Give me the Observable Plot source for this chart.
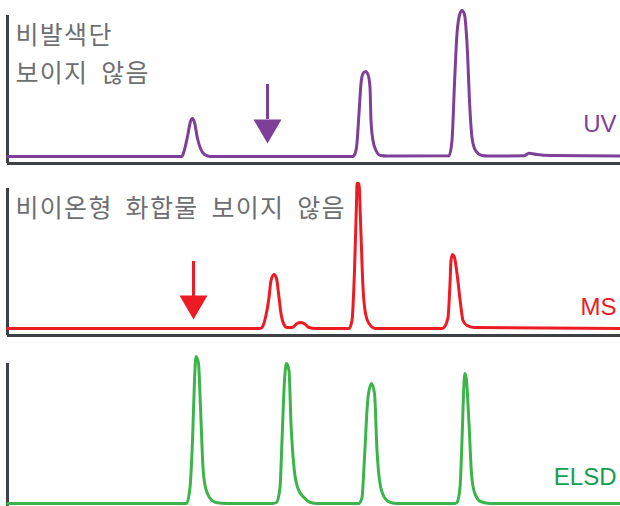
<!DOCTYPE html>
<html>
<head>
<meta charset="utf-8">
<script src="https://cdn.jsdelivr.net/npm/d3@7"></script>
<script src="https://cdn.jsdelivr.net/npm/@observablehq/plot@0.6"></script>
<style>
  html, body { margin: 0; padding: 0; background: #fff; }
  #chart svg { display: block; }
  /* Korean annotations are set a little looser */
  #chart svg g[font-family*="CJK"] text { letter-spacing: 1.3px; word-spacing: 6px; }
</style>
</head>
<body>
<div id="chart"></div>
<script>
// Chromatograms of the same sample on three detectors.
// Each trace: [retention time (s), detector response (a.u.)]
const uvTrace = [
  [0, 0], [348, 0], [350, 1], [360, 20], [366, 35], [370, 38], [374, 34], [380, 18], [386, 8], [394, 2], [406, 0],
  [690, 0], [693, 1], [698, 9], [703, 43], [707, 73], [711, 83], [716, 85], [721, 82], [725, 69], [727, 36], [731, 16], [737, 6], [746, 1], [760, 0.5],
  [883, 0.7], [889, 16], [894, 73], [899, 123], [905, 143], [909, 146], [914, 142], [919, 113], [925, 46], [929, 19], [936, 6], [949, 1], [960, 0.5],
  [1033, 0.7], [1043, 3.3], [1059, 2], [1086, 1], [1226, 0.5]
];
const msTrace = [
  [0, 0], [505, 0], [509, 1], [516, 11], [523, 31], [527, 48], [533, 54], [538, 50], [543, 31], [547, 15], [553, 4], [559, 1],
  [569, 1], [579, 5], [586, 6], [593, 5], [603, 1], [616, 0],
  [683, 0], [689, 8], [694, 58], [698, 125], [699, 145], [703, 145], [706, 108], [711, 41], [716, 15], [723, 5], [736, 0],
  [869, 0], [873, 1], [881, 11], [885, 45], [887, 68], [890, 74], [894, 71], [899, 55], [906, 25], [911, 8], [919, 3], [933, 1], [1226, 0]
];
const elsdTrace = [
  [0, 0], [358, 0], [365, 16], [370, 63], [374, 123], [377, 147], [382, 140], [386, 96], [391, 36], [396, 16], [404, 6], [417, 1], [440, 0],
  [530, 0], [538, 1], [545, 16], [549, 63], [554, 123], [558, 140], [563, 133], [567, 80], [573, 36], [581, 15], [593, 6], [606, 1], [620, 0],
  [703, 0], [709, 6], [714, 46], [721, 106], [728, 120], [734, 110], [739, 53], [745, 20], [754, 6], [766, 1], [780, 0],
  [895, 0], [899, 1], [905, 16], [909, 63], [913, 120], [915, 130], [918, 123], [923, 80], [928, 30], [934, 11], [946, 2], [966, 0], [1226, 0]
];

// Where each detector misses a compound: arrow shaft top, shaft end, head tip
const uvArrow = [{time: 520, top: 72, base: 37, tip: 13}];
const msArrow = [{time: 372, top: 67, base: 32, tip: 9}];

const detectorNames = ["UV", "MS", "ELSD"];
const uvNote = "비발색단\n보이지 않음";
const msNote = "비이온형 화합물 보이지 않음";

const timeDomain = [0, 1226];
const axisColor = "#3d4044";
const noteColor = "#6d6e71";
const krFont = "'Noto Sans CJK KR', 'Noto Sans', sans-serif";
const latinFont = "'Liberation Sans', Arial, sans-serif";

// Filled triangle pointing down, tip at the anchor point
const arrowHead = {
  draw(context, size) {
    const r = Math.sqrt(size / Math.PI);
    context.moveTo(0, 0);
    context.lineTo(-r, -1.72 * r);
    context.lineTo(r, -1.72 * r);
    context.closePath();
  }
};

function panel({trace, color, name, nameColor, nameDy, height, marginTop, marginBottom, yDomain, baseline, note, arrow}) {
  const marks = [Plot.ruleX([timeDomain[0]], {stroke: axisColor, strokeWidth: 3})];
  if (baseline) marks.push(Plot.ruleY([yDomain[0]], {stroke: axisColor, strokeWidth: 3}));
  marks.push(Plot.line(trace, {x: (d) => d[0], y: (d) => d[1], stroke: color, strokeWidth: 3, curve: "monotone-x"}));
  if (arrow) {
    marks.push(Plot.ruleX(arrow, {x: "time", y1: "top", y2: "base", stroke: color, strokeWidth: 3}));
    marks.push(Plot.dot(arrow, {x: "time", y: "tip", symbol: arrowHead, r: 14, fill: color, stroke: "none"}));
  }
  if (note) {
    marks.push(Plot.text([note], {
      text: (d) => d, frameAnchor: "top-left", textAnchor: "start", lineAnchor: "top",
      dx: 8, dy: 2, fontSize: 25, lineHeight: 1.52, fill: noteColor, fontFamily: krFont
    }));
  }
  marks.push(Plot.text([name], {
    text: (d) => d, frameAnchor: "bottom-right", textAnchor: "end", lineAnchor: "middle",
    dx: -4, dy: nameDy, fontSize: 24, fill: nameColor, fontFamily: latinFont
  }));
  return Plot.plot({
    width: 620,
    height,
    marginLeft: 7,
    marginRight: 0,
    marginTop,
    marginBottom,
    x: {domain: timeDomain, axis: null},
    y: {domain: yDomain, axis: null},
    style: {background: "#fff", overflow: "visible"},
    marks
  });
}

const chart = document.getElementById("chart");
chart.append(
  panel({trace: uvTrace, color: "#7d3f98", name: detectorNames[0], nameColor: "#7d3f98", nameDy: -39,
         height: 170, marginTop: 15, marginBottom: 7, yDomain: [-7, 141], baseline: true, note: uvNote, arrow: uvArrow}),
  panel({trace: msTrace, color: "#ed1c24", name: detectorNames[1], nameColor: "#ed1c24", nameDy: -28,
         height: 170, marginTop: 18, marginBottom: 5, yDomain: [-7, 140], baseline: true, note: msNote, arrow: msArrow}),
  panel({trace: elsdTrace, color: "#3bb54a", name: detectorNames[2], nameColor: "#12a04c", nameDy: -29,
         height: 166, marginTop: 23, marginBottom: 0, yDomain: [-3, 140], baseline: false})
);
</script>
</body>
</html>
